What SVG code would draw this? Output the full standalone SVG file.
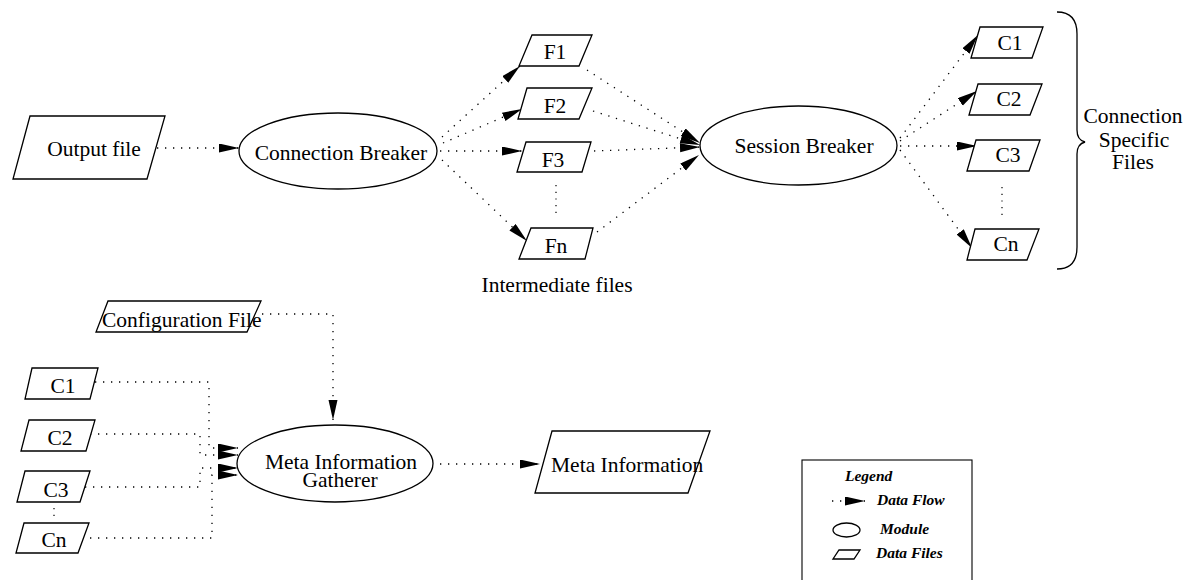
<svg xmlns="http://www.w3.org/2000/svg" width="1185" height="580" viewBox="0 0 1185 580">
  <style>
    .shape { fill: #fff; stroke: #000; stroke-width: 1.3; }
    .flow { fill: none; stroke: #000; stroke-width: 1.3; stroke-dasharray: 1.3 6.7; }
    .gap { fill: none; stroke: #000; stroke-width: 1.2; stroke-dasharray: 1.2 5.5; }
    .lbl { font-family: "Liberation Serif", "Times New Roman", serif; font-size: 21.5px; fill: #000; }
    .mid { text-anchor: middle; }
    .leg { font-family: "Liberation Serif", "Times New Roman", serif; font-size: 15.5px; font-weight: bold; font-style: italic; fill: #000; }
  </style>
  <defs>
    <marker id="arrow" markerUnits="userSpaceOnUse" markerWidth="21" markerHeight="10" refX="20" refY="4.5" orient="auto">
      <path d="M0,0 L20,4.5 L0,9 z" fill="#000" stroke="none"/>
    </marker>
  </defs>
  <rect width="1185" height="580" fill="#fff"/>

  <!-- data flow connectors -->
  <g id="connectors">
    <path class="flow" d="M157,148 L239,148" marker-end="url(#arrow)"/>
    <path class="flow" d="M442,137 L520,66" marker-end="url(#arrow)"/>
    <path class="flow" d="M443,143 L522,109" marker-end="url(#arrow)"/>
    <path class="flow" d="M440,151 L522,151" marker-end="url(#arrow)"/>
    <path class="flow" d="M442,160 L527,241" marker-end="url(#arrow)"/>
    <path class="flow" d="M587,70 L700,143" marker-end="url(#arrow)"/>
    <path class="flow" d="M593,111 L700,145" marker-end="url(#arrow)"/>
    <path class="flow" d="M594,151 L700,147" marker-end="url(#arrow)"/>
    <path class="flow" d="M597,232 L699,155" marker-end="url(#arrow)"/>
    <path class="flow" d="M900,138 L978,35" marker-end="url(#arrow)"/>
    <path class="flow" d="M900,141 L977,91" marker-end="url(#arrow)"/>
    <path class="flow" d="M900,146 L977,146" marker-end="url(#arrow)"/>
    <path class="flow" d="M900,150 L972,248" marker-end="url(#arrow)"/>
    <path class="flow" d="M262,314 H333 V420" marker-end="url(#arrow)"/>
    <path class="flow" d="M95,382 H209 V448 H238" marker-end="url(#arrow)"/>
    <path class="flow" d="M90,434 H200 V455 H238" marker-end="url(#arrow)"/>
    <path class="flow" d="M85,487 H200 V468 H238" marker-end="url(#arrow)"/>
    <path class="flow" d="M82,538 H212 V475 H238" marker-end="url(#arrow)"/>
    <path class="flow" d="M440,464 L540,464" marker-end="url(#arrow)"/>
    <!-- ellipsis marks between file lists -->
    <path class="gap" d="M556,185 V213"/>
    <path class="gap" d="M1002,187 V215"/>
    <path class="gap" d="M54,508 V518"/>
  </g>

  <g id="output-file">
    <polygon class="shape" points="30,116 165,116 147,179 13,179"/>
    <text class="lbl mid" x="94" y="156">Output file</text>
  </g>

  <g id="connection-breaker">
    <ellipse class="shape" cx="338" cy="151" rx="99" ry="38"/>
    <text class="lbl mid" x="341" y="160">Connection Breaker</text>
  </g>

  <g id="f1">
    <polygon class="shape" points="532,35 592,35 579,66 519,66"/>
    <text class="lbl mid" x="555" y="59">F1</text>
  </g>
  <g id="f2">
    <polygon class="shape" points="527,88 592,88 579,119 518,119"/>
    <text class="lbl mid" x="555" y="113">F2</text>
  </g>
  <g id="f3">
    <polygon class="shape" points="526,142 591,142 582,172 517,172"/>
    <text class="lbl mid" x="553" y="167">F3</text>
  </g>
  <g id="fn">
    <polygon class="shape" points="531,228 593,228 585,259 519,259"/>
    <text class="lbl mid" x="556" y="253">Fn</text>
  </g>
  <text id="intermediate-label" class="lbl mid" x="557" y="292">Intermediate files</text>

  <g id="session-breaker">
    <ellipse class="shape" cx="798.5" cy="145.5" rx="98.5" ry="39.5"/>
    <text class="lbl mid" x="804" y="153">Session Breaker</text>
  </g>

  <g id="c1-out">
    <polygon class="shape" points="980,27 1043,27 1032,58 971,58"/>
    <text class="lbl mid" x="1010" y="50">C1</text>
  </g>
  <g id="c2-out">
    <polygon class="shape" points="978,84 1042,84 1030,115 969,115"/>
    <text class="lbl mid" x="1009" y="106">C2</text>
  </g>
  <g id="c3-out">
    <polygon class="shape" points="976,140 1040,140 1029,171 967,171"/>
    <text class="lbl mid" x="1008" y="162">C3</text>
  </g>
  <g id="cn-out">
    <polygon class="shape" points="975,229 1039,229 1027,260 967,260"/>
    <text class="lbl mid" x="1006" y="251">Cn</text>
  </g>

  <g id="connection-files-brace">
    <path d="M1057,12 Q1077,12 1077,34 L1077,130 Q1077,140 1085,142 Q1077,144 1077,154 L1077,247 Q1077,269 1057,269" fill="none" stroke="#000" stroke-width="1.3"/>
    <text class="lbl mid" x="1133" y="123">Connection</text>
    <text class="lbl mid" x="1134" y="147">Specific</text>
    <text class="lbl mid" x="1133" y="169">Files</text>
  </g>

  <g id="configuration-file">
    <polygon class="shape" points="108,301 261,301 247,332 96,332"/>
    <text class="lbl" x="102" y="327">Configuration File</text>
  </g>

  <g id="c1-in">
    <polygon class="shape" points="32,368 98,368 90,399 25,399"/>
    <text class="lbl mid" x="63" y="393">C1</text>
  </g>
  <g id="c2-in">
    <polygon class="shape" points="29,420 95,420 86,451 21,451"/>
    <text class="lbl mid" x="60" y="445">C2</text>
  </g>
  <g id="c3-in">
    <polygon class="shape" points="25,471 90,471 80,502 17,502"/>
    <text class="lbl mid" x="56" y="497">C3</text>
  </g>
  <g id="cn-in">
    <polygon class="shape" points="24,523 89,523 78,553 16,553"/>
    <text class="lbl mid" x="54" y="547">Cn</text>
  </g>

  <g id="meta-gatherer">
    <ellipse class="shape" cx="335" cy="463.5" rx="98" ry="38.5"/>
    <text class="lbl mid" x="341" y="469">Meta Information</text>
    <text class="lbl mid" x="340" y="487">Gatherer</text>
  </g>

  <g id="meta-information">
    <polygon class="shape" points="552,431 710,431 688,493 535,493"/>
    <text class="lbl" x="551" y="472">Meta Information</text>
  </g>

  <g id="legend">
    <rect x="802" y="460" width="170" height="125" fill="#fff" stroke="#000" stroke-width="1.1"/>
    <text class="leg" x="845" y="481">Legend</text>
    <path class="flow" d="M832,501 L865,501" marker-end="url(#arrow)"/>
    <text class="leg" x="877" y="505">Data Flow</text>
    <ellipse class="shape" cx="846.5" cy="530" rx="13.5" ry="7" stroke-width="1"/>
    <text class="leg" x="880" y="534">Module</text>
    <polygon class="shape" points="839,550 860,550 854,559 833,559" stroke-width="1"/>
    <text class="leg" x="876" y="558">Data Files</text>
  </g>
</svg>
